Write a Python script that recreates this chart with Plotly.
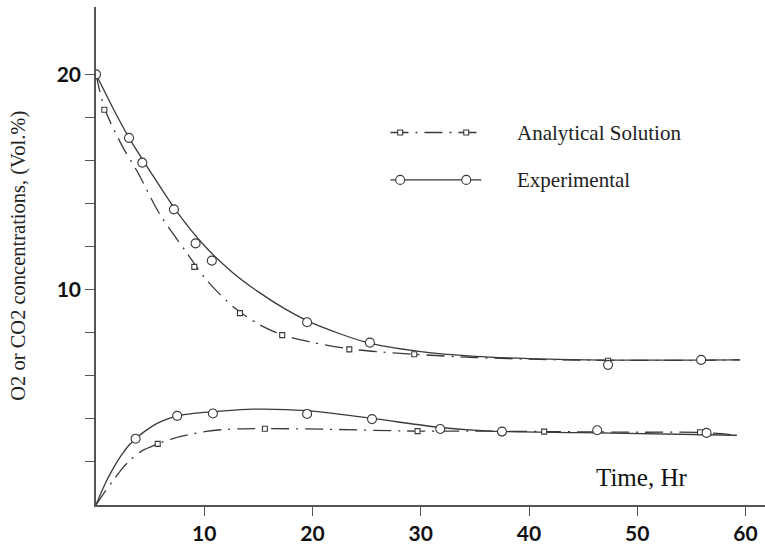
import plotly.graph_objects as go

# ---------------- data ----------------
# O2 (upper) experimental points and fitted curve
o2_exp_x = [0, 3.05, 4.28, 7.2, 9.2, 10.7, 19.5, 25.3, 47.3, 55.9]
o2_exp_y = [20.0, 17.05, 15.9, 13.73, 12.15, 11.35, 8.49, 7.54, 6.51, 6.74]
o2_exp_curve_x = [0, 1.5, 3, 5, 7.5, 10, 12.5, 15, 17.5, 20, 25, 30, 35, 40, 47, 55, 59.5]
o2_exp_curve_y = [20, 18.5, 17.1, 15.5, 13.6, 12.05, 10.85, 9.9, 9.1, 8.45, 7.55, 7.12, 6.9, 6.8, 6.73, 6.73, 6.74]

# O2 analytical points and curve
o2_an_x = [0.77, 9.08, 13.3, 17.2, 23.4, 29.4, 47.3]
o2_an_y = [18.36, 11.06, 8.91, 7.89, 7.23, 7.0, 6.7]
o2_an_curve_x = [0, 0.8, 2.5, 3.8, 5.9, 8.4, 10.2, 12.7, 15, 17.2, 20, 23.4, 26.5, 29.4, 35, 41, 47.3, 55, 59.5]
o2_an_curve_y = [20, 18.4, 16.6, 15.5, 13.5, 11.7, 10.45, 9.2, 8.4, 7.9, 7.55, 7.25, 7.1, 7.0, 6.85, 6.76, 6.72, 6.72, 6.74]

# CO2 (lower) experimental points and fitted curve
co2_exp_x = [3.66, 7.5, 10.8, 19.5, 25.5, 31.8, 37.5, 46.3, 56.4]
co2_exp_y = [3.08, 4.14, 4.25, 4.23, 3.99, 3.53, 3.41, 3.47, 3.35]
co2_exp_curve_x = [0, 0.5, 1, 1.5, 2, 2.5, 3, 3.66, 4.5, 5.6, 6.5, 7.5, 9, 10.8, 14.5, 19.5, 25.5, 31.8, 36.4, 45, 59.2]
co2_exp_curve_y = [0, 0.6, 1.15, 1.62, 2.05, 2.42, 2.75, 3.08, 3.42, 3.78, 3.98, 4.14, 4.26, 4.33, 4.45, 4.38, 4.02, 3.6, 3.43, 3.36, 3.24]

# CO2 analytical points and curve
co2_an_x = [5.7, 15.6, 29.7, 41.4, 55.8]
co2_an_y = [2.84, 3.54, 3.43, 3.41, 3.38]
co2_an_curve_x = [0, 0.8, 1.6, 2.4, 3.14, 4.2, 5.7, 7.2, 8.7, 10.2, 11.7, 13.5, 15.6, 21, 29.7, 36, 41.4, 50, 55.8, 59.2]
co2_an_curve_y = [0, 0.6, 1.15, 1.68, 2.08, 2.5, 2.84, 3.1, 3.28, 3.42, 3.5, 3.54, 3.55, 3.52, 3.43, 3.43, 3.41, 3.38, 3.37, 3.25]

x_ticks = [10, 20, 30, 40, 50, 60]
y_ticks = [2, 4, 6, 8, 10, 12, 14, 16, 18, 20]
y_tick_text = ["", "", "", "", "10", "", "", "", "", "20"]

legend_labels = ["Analytical Solution", "Experimental"]

# ---------------- style ----------------
INK = "#3a3a3a"
DASHDOT = "18px,7px,2px,7px"
SERIF = "Liberation Serif, Times New Roman, serif"

fig = go.Figure()


def curve(x, y, dash):
    fig.add_trace(go.Scatter(x=x, y=y, mode="lines", showlegend=False,
                             line=dict(color=INK, width=1.3, dash=dash,
                                       shape="spline", smoothing=0.8),
                             hoverinfo="skip"))


def points(x, y, symbol, size):
    fig.add_trace(go.Scatter(x=x, y=y, mode="markers", showlegend=False,
                             marker=dict(symbol=symbol, size=size, color="white",
                                         line=dict(color=INK, width=1.1))))


curve(o2_an_curve_x, o2_an_curve_y, DASHDOT)
curve(co2_an_curve_x, co2_an_curve_y, DASHDOT)
curve(o2_exp_curve_x, o2_exp_curve_y, "solid")
curve(co2_exp_curve_x, co2_exp_curve_y, "solid")
points(o2_an_x, o2_an_y, "square", 5)
points(co2_an_x, co2_an_y, "square", 5)
points(o2_exp_x, o2_exp_y, "circle", 9)
points(co2_exp_x, co2_exp_y, "circle", 9)

# ---------------- hand-made legend (layout decoration) ----------------
leg_x0, leg_x1 = 27.2, 35.6
leg_marker_x = [28.1, 34.2]
leg_text_x = 38.7
leg_rows = [(17.3, DASHDOT, "rect", 2.5), (15.1, "solid", "circle", 4.5)]
shapes = []
annotations = []
for (yy, dash, kind, half), label in zip(leg_rows, legend_labels):
    shapes.append(dict(type="line", xref="x", yref="y", x0=leg_x0, x1=leg_x1, y0=yy, y1=yy,
                       line=dict(color=INK, width=1.3, dash=dash)))
    for mx in leg_marker_x:
        shapes.append(dict(type=kind, xref="x", yref="y", xsizemode="pixel", ysizemode="pixel",
                           xanchor=mx, yanchor=yy, x0=-half, x1=half, y0=-half, y1=half,
                           fillcolor="white", line=dict(color=INK, width=1.1)))
    annotations.append(dict(x=leg_text_x, y=yy, xref="x", yref="y", text=label,
                            showarrow=False, xanchor="left", yanchor="middle",
                            font=dict(family=SERIF, size=21, color="#222")))

annotations.append(dict(x=50.4, y=1.3, xref="x", yref="y", text="Time, Hr",
                        showarrow=False, xanchor="center", yanchor="middle",
                        font=dict(family=SERIF, size=25, color="#111")))
annotations.append(dict(x=-0.117, y=0.5, xref="paper", yref="paper", textangle=-90,
                        text="O2 or CO2 concentrations, (Vol.%)",
                        showarrow=False, xanchor="center", yanchor="middle",
                        font=dict(family=SERIF, size=20.5, color="#222")))

tickfont = dict(family="Lato, Open Sans, sans-serif", size=21, color="#111", weight="bold")

fig.update_layout(
    width=765, height=545,
    margin=dict(l=96, r=0, t=7, b=35),
    paper_bgcolor="white", plot_bgcolor="white",
    shapes=shapes, annotations=annotations,
    showlegend=False,
    xaxis=dict(range=[0, 61.8], tickvals=x_ticks, ticks="outside", ticklen=9,
               tickwidth=1.3, tickcolor="#555", showline=True, linecolor="#555",
               linewidth=1.5, showgrid=False, zeroline=False, tickfont=tickfont),
    yaxis=dict(range=[0, 23.13], tickvals=y_ticks, ticktext=y_tick_text, ticks="outside",
               ticklen=9, tickwidth=1.3, tickcolor="#555", showline=True, linecolor="#555",
               linewidth=1.5, showgrid=False, zeroline=False, tickfont=tickfont),
)

fig.write_html("out.html")
